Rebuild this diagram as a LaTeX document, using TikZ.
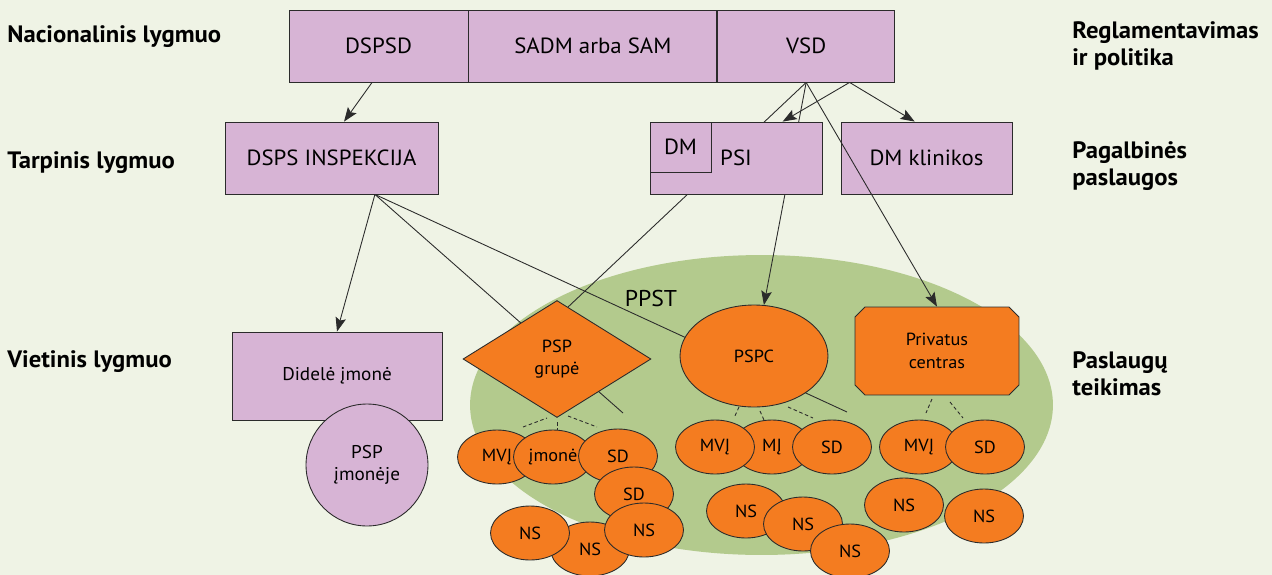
\documentclass[tikz,border=0pt]{standalone}
\usepackage{fontspec}
\setmainfont{PT Sans}[FakeStretch=1.04]
\usetikzlibrary{arrows.meta,positioning,shapes.geometric,shapes.misc,backgrounds}
\definecolor{Canvas}{HTML}{EFF3E5}
\definecolor{Lilac}{HTML}{D7B4D5}
\definecolor{Carrot}{HTML}{F47C20}
\definecolor{Meadow}{HTML}{B3CA8D}
\definecolor{Ink}{HTML}{2B2B2B}

\begin{document}
\begin{tikzpicture}[x=0.02cm, y=-0.02cm, node distance=0pt,
    >={Stealth[length=8pt,width=6pt,inset=1.5pt]},
    lvlbox/.style={draw=Ink, fill=Lilac, line width=0.5pt, minimum height=1.44cm, inner sep=0pt, font=\fontsize{12.5}{15}\selectfont},
    svcshape/.style={draw=Ink, fill=Carrot, line width=0.5pt, inner sep=0pt, align=center, font=\fontsize{10}{12.8}\selectfont},
    svcell/.style={svcshape, ellipse, minimum width=1.58cm, minimum height=1.08cm},
    sidelabel/.style={font=\fontsize{13.5}{15.8}\selectfont\bfseries, align=left, inner sep=0pt},
    tie/.style={line width=0.5pt, draw=Ink},
    tiedash/.style={line width=0.5pt, draw=Ink, dash pattern=on 2pt off 1.5pt}]
  \useasboundingbox (0,0) rectangle (1272,575);

  % levels
  \node[sidelabel, anchor=base west] (lvlnat) at (7,42) {Nacionalinis lygmuo};
  \node[sidelabel, anchor=base west] (lvlmid) at (7,168) {Tarpinis lygmuo};
  \node[sidelabel, anchor=base west] (lvlloc) at (7,367) {Vietinis lygmuo};
  \node[sidelabel, anchor=north west] (rolereg) at (1072,21) {Reglamentavimas\\ir politika};
  \node[sidelabel, anchor=north west] (rolesup) at (1072,141) {Pagalbinės\\paslaugos};
  \node[sidelabel, anchor=north west] (rolesvc) at (1072,351) {Paslaugų\\teikimas};

  % national bar
  \node[lvlbox, minimum width=3.58cm] (dspsd) at (378.5,46) {DSPSD};
  \node[lvlbox, minimum width=4.96cm, right=of dspsd] (sadm) {SADM arba SAM};
  \node[lvlbox, minimum width=3.54cm, right=of sadm] (vsd) {VSD};

  % intermediate
  \node[lvlbox, minimum width=4.26cm] (insp) at (331.5,158) {DSPS INSPEKCIJA};
  \node[lvlbox, minimum width=3.44cm] (psi) at (736,158) {PSI};
  \node[lvlbox, minimum width=1.22cm, minimum height=1cm, anchor=north west] (dm) at (psi.north west) {DM};
  \node[lvlbox, minimum width=3.42cm] (dmk) at (926.5,158) {DM klinikos};

  % local
  \node[lvlbox, minimum width=4.2cm, minimum height=1.76cm, font=\fontsize{10.5}{12.8}\selectfont] (didele) at (337,376) {Didelė įmonė};
  \node[lvlbox, circle, minimum size=2.44cm, align=center, font=\fontsize{10.5}{12.8}\selectfont] (pspimone) at (367,465) {PSP\\įmonėje};
  \node[font=\fontsize{13}{15}\selectfont, inner sep=0pt] (ppst) at (651,299) {PPST};
  \node[svcshape, diamond, minimum width=3.76cm, minimum height=2.34cm] (grp) at (557,359) {PSP\\grupė};
  \node[svcshape, ellipse, minimum width=2.96cm, minimum height=2.04cm] (pspc) at (754,356) {PSPC};
  \node[svcshape, chamfered rectangle, chamfered rectangle xsep=0.1cm, chamfered rectangle ysep=0.1cm,
        minimum width=3.28cm, minimum height=1.76cm] (priv) at (937,351) {Privatus\\centras};

  % group units
  \node[svcell] (gamvi) at (497,457) {MVĮ};
  \node[svcell] (gaimone) at (553,457) {įmonė};
  \node[svcell] (gasd) at (618,456) {SD};
  \node[svcell] (gasdb) at (634,494) {SD};
  \node[svcell] (gansb) at (590,549) {NS};
  \node[svcell] (gansa) at (530,533) {NS};
  \node[svcell] (gansc) at (644,530) {NS};
  % centre units
  \node[svcell] (gbmi) at (772,447) {MĮ};
  \node[svcell] (gbmvi) at (715,447) {MVĮ};
  \node[svcell] (gbsd) at (832,447) {SD};
  \node[svcell] (gbnsa) at (746,511) {NS};
  \node[svcell] (gbnsb) at (803,524) {NS};
  \node[svcell] (gbnsc) at (850,551) {NS};
  % private units
  \node[svcell] (gcmvi) at (919,447) {MVĮ};
  \node[svcell] (gcsd) at (985,447) {SD};
  \node[svcell] (gcnsa) at (904,505) {NS};
  \node[svcell] (gcnsb) at (984,516) {NS};

  \coordinate (grpend) at (623,413);
  \coordinate (pspcend) at (847,412);

  \begin{scope}[on background layer]
    \fill[Canvas] (0,0) rectangle (1272,575);
    \fill[Meadow] (761.5,405) ellipse [x radius=5.83cm, y radius=3cm];
    \draw[tie] (vsd.south) -- (grp.78);
    \draw[tie,->] (vsd.south) -- (pspc.79);
    \draw[tie,->] (vsd.-40) -- (psi.38);
    \draw[tie,->] (vsd.-40) -- (dmk.108);
    \draw[tie,->] (dspsd.260) -- (insp.71);
    \draw[tie,->] (insp.-40) -- (didele.north);
    \draw[tie] (insp.-40) -- (grpend);
    \draw[tie] (insp.-40) -- (pspcend);
    \foreach \a/\b in {{(523,427)}/{(547,418)}, {(557,422)}/{(557,434)}, {(568,416)}/{(597,427)},
                      {(739,407)}/{(734,418)}, {(760,411)}/{(764,420)}, {(788,407)}/{(813,418)},
                      {(932,399)}/{(926,413)}, {(950,402)}/{(963,418)}}
      \draw[tiedash] \a -- \b;
  \end{scope}
  \draw[tie,->] (vsd.south) -- (priv.north);
\end{tikzpicture}
\end{document}
